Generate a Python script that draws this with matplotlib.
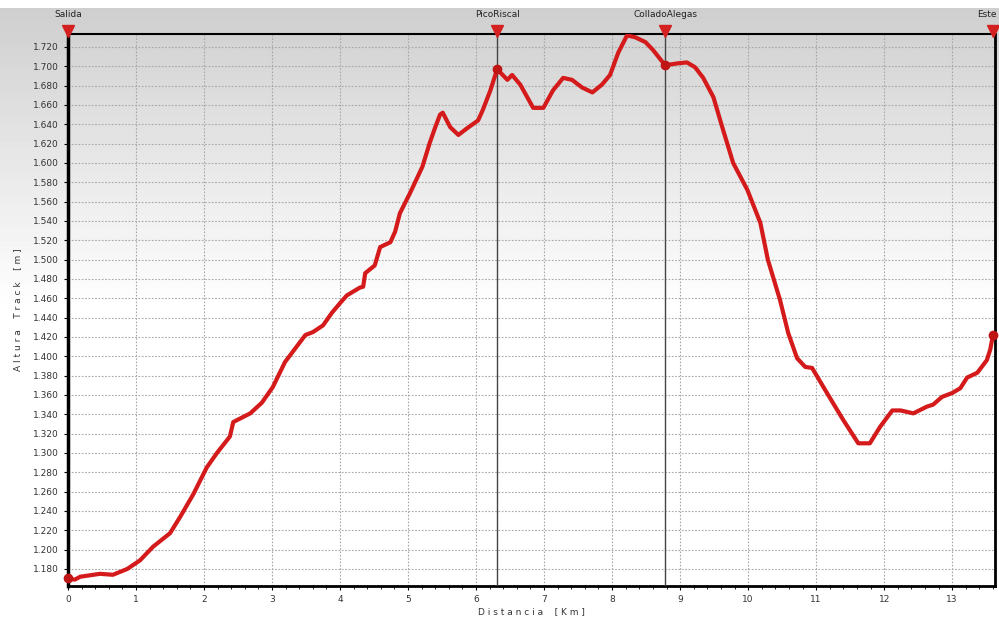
import matplotlib
matplotlib.use("Agg")
import numpy as np
import matplotlib.pyplot as plt
from matplotlib.ticker import FuncFormatter, MultipleLocator

# track profile (km, m)
distancia = [0.00, 0.10, 0.18, 0.47, 0.66, 0.87, 1.06, 1.25, 1.50, 1.65,
             1.84, 2.04, 2.19, 2.38, 2.43, 2.68, 2.85, 3.01, 3.19, 3.49,
             3.60, 3.75, 3.88, 4.00, 4.10, 4.29, 4.34, 4.37, 4.51, 4.59,
             4.74, 4.81, 4.88, 5.03, 5.21, 5.32, 5.40, 5.47, 5.51, 5.62,
             5.74, 5.87, 6.03, 6.10, 6.21, 6.31, 6.46, 6.53, 6.65, 6.84,
             6.99, 7.13, 7.28, 7.41, 7.56, 7.71, 7.85, 7.97, 8.09, 8.22,
             8.34, 8.49, 8.60, 8.78, 8.96, 9.10, 9.22, 9.34, 9.49, 9.62,
             9.78, 9.99, 10.18, 10.29, 10.47, 10.59, 10.72, 10.84, 10.94, 11.16,
             11.40, 11.62, 11.79, 11.94, 12.12, 12.24, 12.43, 12.63, 12.72, 12.85,
             13.00, 13.12, 13.22, 13.37, 13.51, 13.56, 13.60]
altura = [1170, 1169, 1172, 1175, 1174, 1180, 1189, 1203, 1217, 1234,
          1257, 1285, 1300, 1317, 1332, 1341, 1352, 1368, 1394, 1422,
          1425, 1432, 1445, 1455, 1463, 1471, 1472, 1486, 1494, 1513,
          1518, 1529, 1548, 1569, 1596, 1621, 1637, 1650, 1652, 1637,
          1629, 1636, 1644, 1655, 1675, 1697, 1686, 1691, 1681, 1657,
          1657, 1675, 1688, 1686, 1678, 1673, 1681, 1691, 1714, 1732,
          1730, 1725, 1717, 1701, 1703, 1704, 1699, 1688, 1668, 1637,
          1600, 1572, 1538, 1500, 1458, 1424, 1398, 1389, 1388, 1362,
          1334, 1310, 1310, 1327, 1344, 1344, 1341, 1348, 1350, 1358,
          1362, 1367, 1378, 1383, 1396, 1407, 1422]

# waypoints
wp_nombres = ["Salida", "PicoRiscal", "ColladoAlegas", "Este"]
wp_dist = [0.0, 6.31, 8.78, 13.60]
wp_alt = [1171, 1697, 1701, 1422]


def displayGraphic():
    fig = plt.figure(figsize=(9.99, 6.2), dpi=100)

    # grey to white background
    bg = fig.add_axes([0, 0, 1, 1], zorder=-1)
    rows = np.arange(620)
    grad = 0.81 + 0.19 * np.clip((rows - 8) / 300.0, 0, 1)
    grad[:8] = 1.0
    img = np.repeat(grad[:, None], 4, axis=1)
    bg.imshow(img, cmap="gray", vmin=0, vmax=1, aspect="auto",
              extent=[0, 1, 0, 1], origin="upper")
    bg.axis("off")

    ax = fig.add_axes([68 / 999, 34 / 620, 927 / 999, 552 / 620])
    ax.set_facecolor("none")

    ax.plot(distancia, altura, color="#d41a1a", lw=3, solid_joinstyle="round",
            solid_capstyle="round", zorder=4)

    for nombre, d, a in zip(wp_nombres, wp_dist, wp_alt):
        if 0 < d < 13.5:
            ax.axvline(d, color="#444444", lw=1, zorder=3)
        ax.plot(d, a, "o", color="#c01515", ms=6, zorder=5, clip_on=False)
        ax.plot(d, 1.006, "v", color="#d42020", ms=8,
                transform=ax.get_xaxis_transform(), clip_on=False, zorder=6)
        ha = "right" if d > 13 else "center"
        xt = d + 0.05 if d > 13 else d
        ax.text(xt, 1.036, nombre, transform=ax.get_xaxis_transform(),
                ha=ha, va="center", fontsize=6.5, color="#222222")

    ax.set_xlim(0, 13.63)
    ax.set_ylim(1162.4, 1733.4)
    ax.xaxis.set_major_locator(MultipleLocator(1))
    ax.xaxis.set_minor_locator(MultipleLocator(0.2))
    ax.yaxis.set_major_locator(MultipleLocator(20))
    ax.yaxis.set_major_formatter(FuncFormatter(lambda v, p: "%.3f" % (v / 1000)))

    ax.grid(True, which="major", color="#a8a8a8", lw=0.8, linestyle=(0, (1.5, 1.5)))
    ax.tick_params(which="major", length=3, labelsize=6.5, labelcolor="#333333")
    ax.tick_params(which="minor", length=2)

    ax.spines["left"].set_linewidth(2.5)
    ax.spines["bottom"].set_linewidth(2)
    ax.spines["top"].set_linewidth(1.5)
    ax.spines["right"].set_linewidth(2)

    ax.set_xlabel("D i s t a n c i a    [ K m ]", fontsize=6.5, color="#333333",
                  labelpad=2)
    ax.set_ylabel("A l t u r a    T r a c k    [ m ]", fontsize=6.5,
                  color="#333333", labelpad=8)

    fig.savefig("out.png", dpi=100)


if __name__ == "__main__":
    displayGraphic()
